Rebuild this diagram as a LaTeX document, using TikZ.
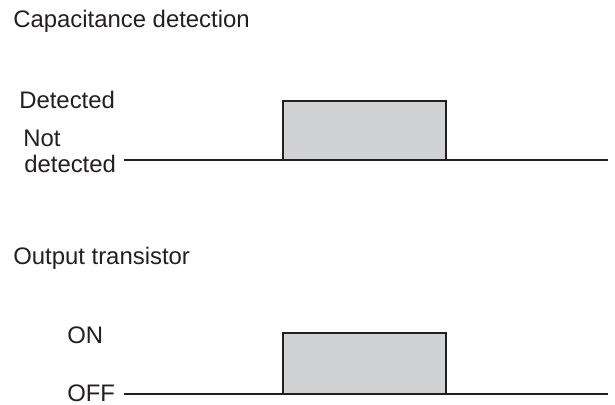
\documentclass[tikz,border=0pt]{standalone}
\usepackage{fontspec}
\setmainfont{Liberation Sans}
\definecolor{inkgray}{HTML}{231F20}
\definecolor{pulsegray}{HTML}{D1D2D4}
\tikzset{
  lbl/.style={anchor=base west, inner sep=0pt, text=inkgray, font=\fontsize{17}{18.5}\selectfont},
  sig/.style={inkgray, line width=1.5pt},
  pulse/.style={fill=pulsegray, draw=inkgray, line width=2pt}
}
\begin{document}
\begin{tikzpicture}
\useasboundingbox (0,0) rectangle (15.375,10.125);

% capacitance detection
\node[lbl] (captitle) at (0.325,9.425) {Capacitance detection};
\node[lbl] (detected) at (0.475,7.4) {Detected};
\node[lbl] (notdet) at (0.575,6.45) {Not};
\node[lbl] (notdet2) at (0.6,5.8) {detected};
\coordinate (c0) at (3.1,6.125);
\coordinate (c1) at (15.2,6.125);
\draw[sig] (c0) -- (c1);
\draw[pulse] (7.075,6.125) rectangle (11.15,7.6);

% output transistor
\node[lbl] (outtitle) at (0.325,3.5) {Output transistor};
\node[lbl] (on) at (1.675,1.525) {ON};
\node[lbl] (off) at (1.675,0.08) {OFF};
\coordinate (o0) at (3.1,0.275);
\coordinate (o1) at (15.2,0.275);
\draw[sig] (o0) -- (o1);
\draw[pulse] (7.075,0.275) rectangle (11.15,1.8);
\end{tikzpicture}
\end{document}
